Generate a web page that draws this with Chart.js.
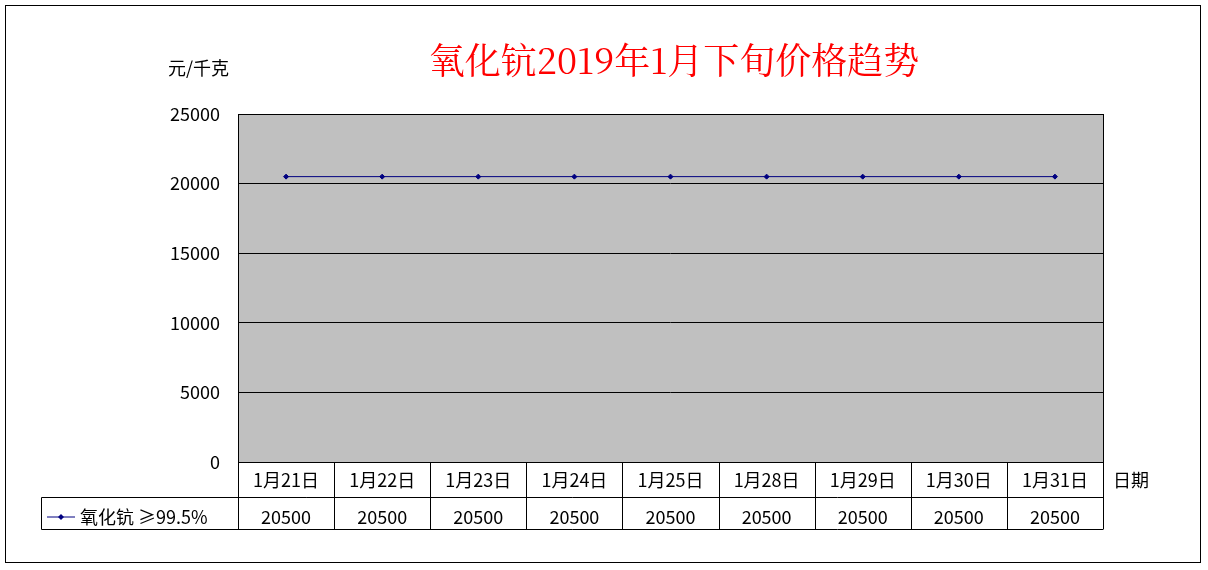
<!DOCTYPE html>
<html><head><meta charset="utf-8">
<script src="https://cdn.jsdelivr.net/npm/chart.js@4"></script>
<style>body{margin:0;background:#fff}#wrap{width:1208px;height:570px;position:relative}</style>
</head><body><div id="wrap"><canvas id="c" width="1208" height="570"></canvas></div>
<script>
const labels=["1月21日","1月22日","1月23日","1月24日","1月25日","1月28日","1月29日","1月30日","1月31日"];
const values=[20500,20500,20500,20500,20500,20500,20500,20500,20500];
const seriesName="氧化钪 ≥99.5%";
const FONT="'Noto Sans CJK SC','DejaVu Sans',sans-serif";

const deco={
  id:"deco",
  beforeDraw(c){
    const {ctx,chartArea:a}=c;
    ctx.save();
    ctx.fillStyle="#c0c0c0";
    ctx.fillRect(a.left,a.top,a.right-a.left,a.bottom-a.top);
    ctx.restore();
  },
  afterDraw(c){
    const {ctx,chartArea:a}=c;
    const x=c.scales.x;
    ctx.save();
    ctx.strokeStyle="#000";ctx.lineWidth=1;
    ctx.strokeRect(5.5,5.5,1195,557);
    ctx.strokeRect(a.left+0.5,a.top+0.5,a.right-a.left,a.bottom-a.top);
    // table
    const r1=a.bottom, r2=497.5, r3=529.5, step=(a.right-a.left)/labels.length;
    ctx.beginPath();
    ctx.moveTo(41.5,r2);ctx.lineTo(a.right,r2);
    ctx.moveTo(41.5,r3);ctx.lineTo(a.right,r3);
    ctx.moveTo(41.5,r2);ctx.lineTo(41.5,r3);
    for(let i=0;i<=labels.length;i++){
      const px=Math.round(a.left+i*step)+0.5;
      ctx.moveTo(px,r1);ctx.lineTo(px,r3);
    }
    ctx.stroke();
    ctx.fillStyle="#000";ctx.font="18px "+FONT;ctx.textAlign="center";ctx.textBaseline="middle";
    labels.forEach((l,i)=>{
      const px=x.getPixelForValue(i);
      ctx.fillText(l,px,480);
      ctx.fillText(String(values[i]),px,517);
    });
    ctx.textAlign="left";
    ctx.fillText("日期",1113,480);
    ctx.fillText(seriesName,80,517);
    ctx.fillText("元/千克",168,68);
    ctx.strokeStyle="#000080";ctx.beginPath();ctx.moveTo(47,517);ctx.lineTo(75,517);ctx.stroke();
    ctx.fillStyle="#000080";ctx.beginPath();ctx.moveTo(61,514);ctx.lineTo(64,517);ctx.lineTo(61,520);ctx.lineTo(58,517);ctx.fill();
    ctx.fillStyle="#ff0000";ctx.font="36px 'Noto Serif CJK SC','Noto Sans CJK SC',serif";ctx.textAlign="center";
    ctx.fillText("氧化钪2019年1月下旬价格趋势",674,60);
    ctx.restore();
  }
};

new Chart(document.getElementById("c"),{
  type:"line",
  data:{labels,datasets:[{label:seriesName,data:values,borderColor:"#000080",borderWidth:1,
    pointStyle:"rectRot",pointRadius:2.5,pointBackgroundColor:"#000080",pointBorderColor:"#000080"}]},
  options:{
    responsive:false,animation:false,
    layout:{padding:{top:114,right:105,bottom:108,left:0}},
    plugins:{legend:{display:false},tooltip:{enabled:false}},
    scales:{
      x:{display:false,offset:true},
      y:{min:0,max:25000,
        afterFit(s){s.width=238;},
        border:{display:false},
        grid:{color:"#000",drawTicks:false},
        ticks:{stepSize:5000,padding:18,color:"#000",font:{size:18,family:FONT},callback:v=>String(v)}}
    }
  },
  plugins:[deco]
});
</script></body></html>
